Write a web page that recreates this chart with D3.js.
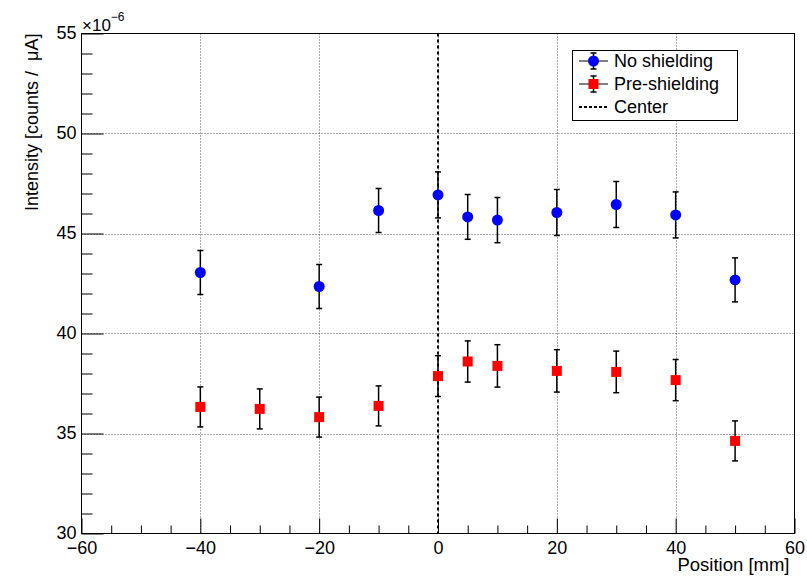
<!DOCTYPE html>
<html><head><meta charset="utf-8">
<script src="https://cdn.jsdelivr.net/npm/d3@7"></script>
<style>body{margin:0;background:#fff}text{font-family:"Liberation Sans",Arial,sans-serif}</style>
</head><body><svg id="c" width="807" height="577"></svg>
<script>
const positions = [-40, -20, -10, 0, 5, 10, 20, 30, 40, 50];
const noShield = [43.05, 42.35, 46.15, 46.93, 45.83, 45.67, 46.05, 46.45, 45.93, 42.68];
const noShieldErr = [1.1, 1.1, 1.1, 1.15, 1.12, 1.13, 1.15, 1.15, 1.15, 1.1];
const prePositions = [-40, -30, -20, -10, 0, 5, 10, 20, 30, 40, 50];
const preShield = [36.33, 36.23, 35.82, 36.38, 37.87, 38.6, 38.38, 38.13, 38.08, 37.67, 34.63];
const preShieldErr = [1.0, 1.0, 1.0, 1.0, 1.02, 1.03, 1.06, 1.06, 1.04, 1.03, 1.0];
const xTicks = [-60, -40, -20, 0, 20, 40, 60];
const yTicks = [30, 35, 40, 45, 50, 55];
const legendLabels = ["No shielding", "Pre-shielding", "Center"];

const svg = d3.select("#c");
const L = 81.5, R = 794.5, T = 33.5, B = 533.5;
const x = d3.scaleLinear().domain([-60, 60]).range([L, R]);
const y = d3.scaleLinear().domain([30, 55]).range([B, T]);

// grid
const g = svg.append("g");
g.selectAll(".gx").data(xTicks.filter(d => d > -60 && d < 60)).join("line")
  .attr("x1", d => Math.round(x(d)) + 0.5).attr("x2", d => Math.round(x(d)) + 0.5)
  .attr("y1", T).attr("y2", B).attr("stroke", "#555").attr("stroke-width", 1).attr("stroke-dasharray", "1,2");
g.selectAll(".gy").data(yTicks.filter(d => d > 30 && d < 55)).join("line")
  .attr("y1", d => Math.round(y(d)) + 0.5).attr("y2", d => Math.round(y(d)) + 0.5)
  .attr("x1", L).attr("x2", R).attr("stroke", "#555").attr("stroke-width", 1).attr("stroke-dasharray", "1,2");

// center line
svg.append("line").attr("x1", x(0)).attr("x2", x(0)).attr("y1", T).attr("y2", B)
  .attr("stroke", "#000").attr("stroke-width", 2).attr("stroke-dasharray", "3,3");

// axes
const xAxis = d3.axisBottom(x).tickValues(d3.range(-60, 61, 5)).tickSize(0).tickFormat("");
const gx = svg.append("g").attr("transform", `translate(0,${B})`).call(xAxis);
gx.select(".domain").remove();
gx.selectAll(".tick line").remove();
gx.selectAll(".tick").append("line").attr("y1", 0).attr("y2", d => d % 20 === 0 ? -15 : -8)
  .attr("stroke", "#000").attr("stroke-width", 1);
gx.selectAll(".tick").filter(d => d % 20 === 0).append("text")
  .attr("y", 20).attr("text-anchor", "middle").attr("font-size", 18).attr("fill", "#000")
  .text(d => d < 0 ? "\u2212" + Math.abs(d) : d);

const yAxis = d3.axisLeft(y).tickValues(d3.range(30, 56, 1)).tickSize(0).tickFormat("");
const gy = svg.append("g").attr("transform", `translate(${L},0)`).call(yAxis);
gy.select(".domain").remove();
gy.selectAll(".tick line").remove();
gy.selectAll(".tick").append("line").attr("x1", 0).attr("x2", d => d % 5 === 0 ? 22 : 11)
  .attr("stroke", "#000").attr("stroke-width", 1);
gy.selectAll(".tick").filter(d => d % 5 === 0).append("text")
  .attr("x", -5).attr("dy", "0.3em").attr("text-anchor", "end").attr("font-size", 18).attr("fill", "#000")
  .text(d => d);

// frame
svg.append("rect").attr("x", L).attr("y", T).attr("width", R - L).attr("height", B - T)
  .attr("fill", "none").attr("stroke", "#000").attr("stroke-width", 1);

// multiplier
const mt = svg.append("text").attr("x", 82).attr("y", 31).attr("font-size", 17).attr("fill", "#000");
mt.append("tspan").text("\u00d710");
mt.append("tspan").attr("dy", -10).attr("font-size", 12).text("\u22126");

// axis titles
svg.append("text").attr("x", R - 5).attr("y", 571).attr("text-anchor", "end").attr("font-size", 18.5).text("Position [mm]");
svg.append("text").attr("transform", `translate(38,${T}) rotate(-90)`).attr("text-anchor", "end")
  .attr("font-size", 18).attr("xml:space", "preserve").text("Intensity [counts /  \u03bcA]");

// error bars + markers
function series(xs, vs, es, color, shape) {
  const gg = svg.append("g");
  const d = xs.map((p, i) => ({p, v: vs[i], e: es[i]}));
  gg.selectAll(".eb").data(d).join("line")
    .attr("x1", k => x(k.p)).attr("x2", k => x(k.p))
    .attr("y1", k => y(k.v + k.e)).attr("y2", k => y(k.v - k.e))
    .attr("stroke", "#000").attr("stroke-width", 1.5);
  [1, -1].forEach(s => {
    gg.selectAll(".cap" + s).data(d).join("line")
      .attr("x1", k => x(k.p) - 3).attr("x2", k => x(k.p) + 3)
      .attr("y1", k => y(k.v + s * k.e)).attr("y2", k => y(k.v + s * k.e))
      .attr("stroke", "#000").attr("stroke-width", 1.5);
  });
  if (shape === "circle") {
    gg.selectAll(".m").data(d).join("circle").attr("cx", k => x(k.p)).attr("cy", k => y(k.v))
      .attr("r", 5.5).attr("fill", color);
  } else {
    gg.selectAll(".m").data(d).join("rect").attr("x", k => x(k.p) - 5).attr("y", k => y(k.v) - 5)
      .attr("width", 10).attr("height", 10).attr("fill", color);
  }
}
series(positions, noShield, noShieldErr, "#0000ff", "circle");
series(prePositions, preShield, preShieldErr, "#ff0000", "square");

// legend
const lg = svg.append("g");
lg.append("rect").attr("x", 572.5).attr("y", 50.5).attr("width", 165).attr("height", 70)
  .attr("fill", "#fff").attr("stroke", "#000").attr("stroke-width", 1);
const rows = [61, 84, 107];
legendLabels.forEach((lab, i) => {
  const cy = rows[i];
  if (i < 2) {
    lg.append("line").attr("x1", 579).attr("x2", 608).attr("y1", cy).attr("y2", cy).attr("stroke", "#000").attr("stroke-width", 1);
    lg.append("line").attr("x1", 593.5).attr("x2", 593.5).attr("y1", cy - 8).attr("y2", cy + 8).attr("stroke", "#000").attr("stroke-width", 1.5);
    lg.append("line").attr("x1", 590.5).attr("x2", 596.5).attr("y1", cy - 8).attr("y2", cy - 8).attr("stroke", "#000").attr("stroke-width", 1.5);
    lg.append("line").attr("x1", 590.5).attr("x2", 596.5).attr("y1", cy + 8).attr("y2", cy + 8).attr("stroke", "#000").attr("stroke-width", 1.5);
    if (i === 0) lg.append("circle").attr("cx", 593.5).attr("cy", cy).attr("r", 5.5).attr("fill", "#0000ff");
    else lg.append("rect").attr("x", 588.5).attr("y", cy - 5).attr("width", 10).attr("height", 10).attr("fill", "#ff0000");
  } else {
    lg.append("line").attr("x1", 579).attr("x2", 608).attr("y1", cy).attr("y2", cy).attr("stroke", "#000").attr("stroke-width", 2).attr("stroke-dasharray", "3,2");
  }
  lg.append("text").attr("x", 614).attr("y", cy).attr("dy", "0.36em").attr("font-size", 18).text(lab);
});
</script></body></html>
